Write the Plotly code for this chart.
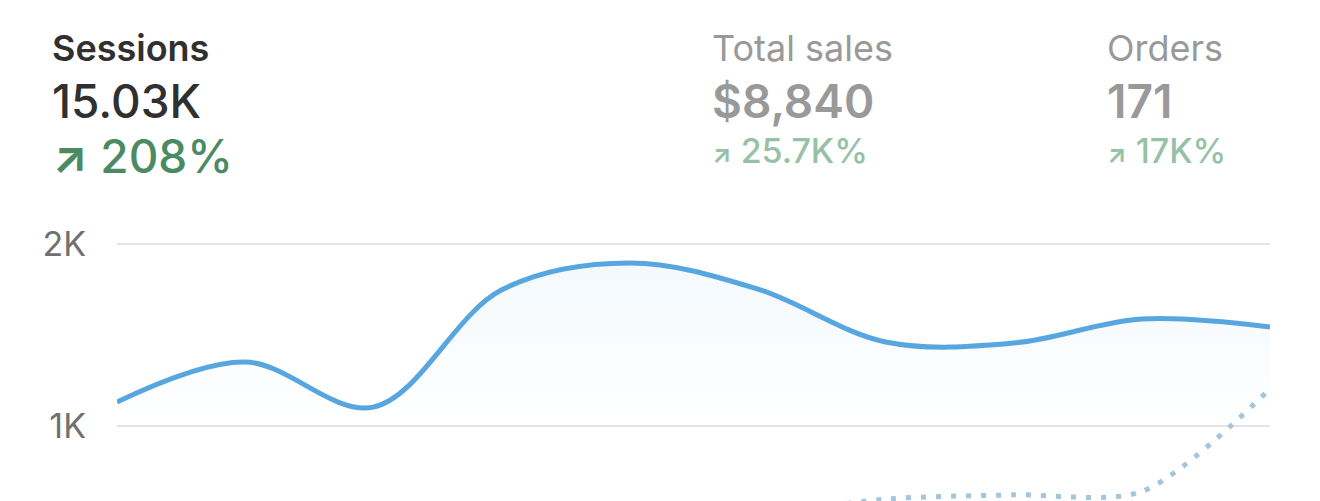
import plotly.graph_objects as go

# Sessions per point (current period) and previous period, 10 points
points = list(range(10))
sessions = [1132, 1352, 1104, 1747, 1896, 1753, 1462, 1456, 1588, 1544]
sessions_prev = [210, 240, 280, 270, 330, 500, 598, 622, 640, 1205]

tick_vals = [1000, 2000]
tick_text = ['1K', '2K']

kpi_labels = ['Sessions', 'Total sales', 'Orders']
kpi_values = ['15.03K', '$8,840', '171']
kpi_changes = ['208%', '25.7K%', '17K%']

LINE_BLUE = '#58a6e0'
PREV_BLUE = '#a4c5dc'
GRID = '#e3e3e3'
DARK = '#303030'
MUTED = '#999999'
GREEN = '#4b8a63'
GREEN_MUTED = '#97c1a6'
FONT = 'Inter'

# page body has an 8px margin, so the figure sits at (8, 8) on screen
OFF = 8
W, H = 1312, 493
L, R, T, B = 109, 50, 192, 0


def px_x(px):
    return (px - OFF - L) / (W - L - R)


def px_y(py):
    return (H - B - (py - OFF)) / (H - T - B)


fig = go.Figure()

fig.add_trace(go.Scatter(
    x=points, y=sessions_prev, mode='lines', name='previous',
    line=dict(color=PREV_BLUE, width=5, dash='5px,10px', shape='spline', smoothing=0.8),
    hoverinfo='skip'
))
fig.add_trace(go.Scatter(
    x=points, y=sessions, mode='lines', name='sessions',
    line=dict(color=LINE_BLUE, width=5, shape='spline', smoothing=1),
    fill='tozeroy',
    fillgradient=dict(type='vertical', start=1000, stop=1900,
                      colorscale=[[0, 'rgba(88,166,224,0)'], [1, 'rgba(88,166,224,0.07)']]),
))

# KPI header
ann = []
kpi_x = [50, 710, 1105]
for i, (lab, val, chg) in enumerate(zip(kpi_labels, kpi_values, kpi_changes)):
    first = i == 0
    ann.append(dict(text=lab, x=px_x(kpi_x[i]), y=px_y(48), xanchor='left', yanchor='middle',
                    font=dict(family=FONT, size=36, color=DARK if first else MUTED,
                              weight=600 if first else 400)))
    ann.append(dict(text=val, x=px_x(kpi_x[i]), y=px_y(101), xanchor='left', yanchor='middle',
                    font=dict(family=FONT, size=46, color=DARK if first else MUTED,
                              weight=500 if first else 600)))
    if first:
        txt = '<b>↗</b> ' + chg
        fsize = 46
        col = GREEN
    else:
        txt = '<span style="font-size:25px;font-weight:bold">↗</span> ' + chg
        fsize = 34
        col = GREEN_MUTED
    ann.append(dict(text=txt, x=px_x(kpi_x[i]), y=px_y(156 if first else 151), xanchor='left',
                    yanchor='middle', font=dict(family=FONT, size=fsize, color=col, weight=500)))

for a in ann:
    a.update(xref='paper', yref='paper', showarrow=False)

fig.update_layout(
    width=W, height=H,
    margin=dict(l=L, r=R, t=T, b=B),
    paper_bgcolor='white', plot_bgcolor='white',
    showlegend=False,
    annotations=ann,
    xaxis=dict(range=[0, 9], visible=False, fixedrange=True),
    yaxis=dict(range=[588, 2242], tickvals=tick_vals, ticktext=tick_text,
               showgrid=True, gridcolor=GRID, gridwidth=2, zeroline=False, showline=False,
               ticks='', ticklabelstandoff=30,
               tickfont=dict(family=FONT, size=34, color='#707070')),
)

fig.write_html("out.html")
